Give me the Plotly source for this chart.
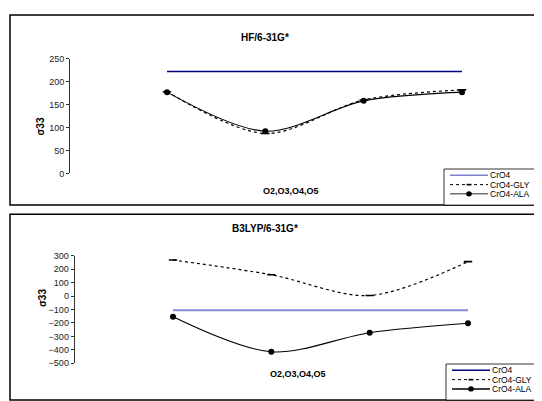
import plotly.graph_objects as go

# ---------------- data ----------------
categories = ["O2", "O3", "O4", "O5"]
x_axis_title = "O2,O3,O4,O5"
y_axis_title = "σ33"
series_names = ["CrO4", "CrO4-GLY", "CrO4-ALA"]

hf_title = "HF/6-31G*"
hf_cro4 = [222, 222, 222, 222]
hf_gly = [178, 87, 160, 182]
hf_ala = [177, 92, 158, 177]
hf_ticks = [0, 50, 100, 150, 200, 250]

b3_title = "B3LYP/6-31G*"
b3_cro4 = [-105, -105, -105, -105]
b3_gly = [268, 158, 4, 256]
b3_ala = [-154, -415, -273, -203]
b3_ticks = [-500, -400, -300, -200, -100, 0, 100, 200, 300]

# ---------------- layout helpers ----------------
W, H = 542, 401
OFF = 8  # page body margin: screen position = figure position + 8
FONT = "Arial, Liberation Sans, sans-serif"


def px(x):
    return (x - OFF) / W


def py(y):
    return 1 - (y - OFF) / H


xs = list(range(len(categories)))

fig = go.Figure()

panels = [
    dict(title=hf_title, cro4=hf_cro4, gly=hf_gly, ala=hf_ala, ticks=hf_ticks,
         cro4_color="#000080", cro4_width=1.3,
         xa="x", ya="y", axis_x=70, y_lo_px=172.5, y_hi_px=54.8, yr=[0, 250],
         x_first=167, x_last=462,
         box_top=10, box_bot=205, title_y=25, xt_y=191, xt_x=291,
         yt_x=33, leg_left=444, leg_top=168, leg_bot=205,
         leg_rows=[174.5, 184, 193.5],
         leg_colors=["#8080d0", "black", "#707070"]),
    dict(title=b3_title, cro4=b3_cro4, gly=b3_gly, ala=b3_ala, ticks=b3_ticks,
         cro4_color="#8a8ad6", cro4_width=2,
         xa="x2", ya="y2", axis_x=74.7, y_lo_px=367.2, y_hi_px=256.9, yr=[-500, 300],
         x_first=173, x_last=468,
         box_top=214.5, box_bot=405, title_y=229.5, xt_y=385, xt_x=298,
         yt_x=35, leg_left=446, leg_top=368, leg_bot=405,
         leg_rows=[374.5, 384, 393.5],
         leg_colors=["#000080", "black", "black"]),
]

shapes = []
annotations = []

for i, p in enumerate(panels):
    # traces
    fig.add_trace(go.Scatter(
        x=xs, y=p["cro4"], name=series_names[0], mode="lines",
        line=dict(color=p["cro4_color"], width=p["cro4_width"]),
        xaxis=p["xa"], yaxis=p["ya"], showlegend=False,
        text=categories, hovertemplate="%{text}: %{y}<extra>CrO4</extra>"))
    fig.add_trace(go.Scatter(
        x=xs, y=p["gly"], name=series_names[1], mode="lines+markers",
        line=dict(color="black", width=1.2, dash="dot", shape="spline", smoothing=0.9),
        marker=dict(symbol="line-ew", size=6, line=dict(color="black", width=1.6)),
        xaxis=p["xa"], yaxis=p["ya"], showlegend=False,
        text=categories, hovertemplate="%{text}: %{y}<extra>CrO4-GLY</extra>"))
    fig.add_trace(go.Scatter(
        x=xs, y=p["ala"], name=series_names[2], mode="lines+markers",
        line=dict(color="black", width=1.1, shape="spline", smoothing=0.9),
        marker=dict(symbol="circle", size=6, color="black"),
        xaxis=p["xa"], yaxis=p["ya"], showlegend=False,
        text=categories, hovertemplate="%{text}: %{y}<extra>CrO4-ALA</extra>"))

    # axes
    unit = (p["x_last"] - p["x_first"]) / (len(categories) - 1)
    x0 = (p["axis_x"] - p["x_first"]) / unit
    x1 = (W + OFF - p["x_first"]) / unit
    xkey = "xaxis" if i == 0 else "xaxis2"
    ykey = "yaxis" if i == 0 else "yaxis2"
    fig.update_layout(**{
        xkey: dict(domain=[px(p["axis_x"]), 1], range=[x0, x1], visible=False,
                   anchor=p["ya"]),
        ykey: dict(domain=[py(p["y_lo_px"]), py(p["y_hi_px"])], range=p["yr"],
                   anchor=p["xa"], tickvals=p["ticks"], ticks="outside",
                   ticklen=3, tickcolor="#333", showline=True, linecolor="#333",
                   linewidth=1, showgrid=False, zeroline=False,
                   tickfont=dict(family=FONT, size=9, color="#222")),
    })

    # panel border
    shapes.append(dict(type="rect", xref="paper", yref="paper",
                       x0=px(10), x1=px(560), y0=py(p["box_bot"]), y1=py(p["box_top"]),
                       line=dict(color="black", width=1.5), fillcolor="rgba(0,0,0,0)"))

    # titles
    annotations.append(dict(text="<b>%s</b>" % p["title"], xref="paper", yref="paper",
                            x=px(265), y=py(p["title_y"]), showarrow=False,
                            font=dict(family=FONT, size=10, color="black")))
    annotations.append(dict(text="<b>%s</b>" % x_axis_title, xref="paper", yref="paper",
                            x=px(p["xt_x"]), y=py(p["xt_y"]), showarrow=False,
                            font=dict(family=FONT, size=9, color="black")))
    annotations.append(dict(text="<b>%s</b>" % y_axis_title, xref="paper", yref="paper",
                            x=px(p["yt_x"]), y=(py(p["y_lo_px"]) + py(p["y_hi_px"])) / 2,
                            textangle=-90, showarrow=False,
                            font=dict(family=FONT, size=10, color="black")))

    # legend box
    shapes.append(dict(type="rect", xref="paper", yref="paper",
                       x0=px(p["leg_left"]), x1=px(560), y0=py(p["leg_bot"]),
                       y1=py(p["leg_top"]),
                       line=dict(color="black", width=0.8), fillcolor="white"))
    lx0, lx1 = p["leg_left"] + 6, p["leg_left"] + 44
    for k, (name, yy, col) in enumerate(zip(series_names, p["leg_rows"], p["leg_colors"])):
        shapes.append(dict(type="line", xref="paper", yref="paper",
                           x0=px(lx0), x1=px(lx1), y0=py(yy), y1=py(yy),
                           line=dict(color=col, width=1.5 if k != 1 else 1,
                                     dash="dot" if k == 1 else "solid")))
        if k == 1:
            shapes.append(dict(type="line", xref="paper", yref="paper",
                               x0=px((lx0 + lx1) / 2 - 2.5), x1=px((lx0 + lx1) / 2 + 2.5),
                               y0=py(yy), y1=py(yy), line=dict(color="black", width=1.6)))
        if k == 2:
            cx = (lx0 + lx1) / 2
            shapes.append(dict(type="circle", xref="paper", yref="paper",
                               x0=px(cx - 2.8), x1=px(cx + 2.8),
                               y0=py(yy + 2.8), y1=py(yy - 2.8),
                               fillcolor="black", line=dict(color="black", width=0)))
        annotations.append(dict(text=name, xref="paper", yref="paper",
                                x=px(lx1 + 1), y=py(yy), xanchor="left", yanchor="middle",
                                showarrow=False, borderpad=0,
                                font=dict(family=FONT, size=8.5, color="black")))

fig.update_layout(
    width=W, height=H, margin=dict(l=0, r=0, t=0, b=0),
    paper_bgcolor="white", plot_bgcolor="white",
    shapes=shapes, annotations=annotations, showlegend=False,
)

fig.write_html("out.html")
